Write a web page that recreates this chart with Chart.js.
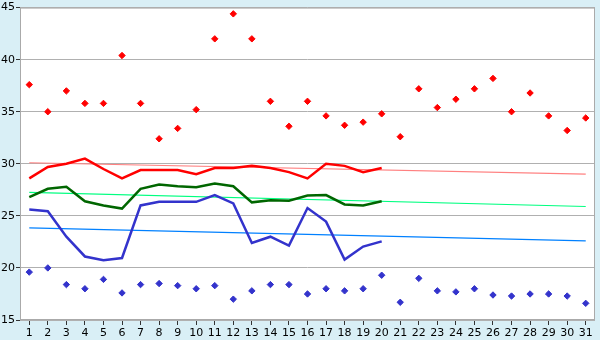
<!DOCTYPE html>
<html>
<head>
<meta charset="utf-8">
<script src="https://cdn.jsdelivr.net/npm/chart.js@4"></script>
<style>
  html, body { margin: 0; padding: 0; background: #d9eff6; }
  #wrap { width: 600px; height: 340px; }
</style>
</head>
<body>
<div id="wrap"><canvas id="chart"></canvas></div>
<script>
const days = ['1','2','3','4','5','6','7','8','9','10','11','12','13','14','15','16','17','18','19','20','21','22','23','24','25','26','27','28','29','30','31'];

const highPoints = [37.6, 35.0, 37.0, 35.8, 35.8, 40.4, 35.8, 32.4, 33.4, 35.2, 42.0, 44.4, 42.0, 36.0, 33.6, 36.0, 34.6, 33.7, 34.0, 34.8, 32.6, 37.2, 35.4, 36.2, 37.2, 38.2, 35.0, 36.8, 34.6, 33.2, 34.4];
const lowPoints = [19.6, 20.0, 18.4, 18.0, 18.9, 17.6, 18.4, 18.5, 18.3, 18.0, 18.3, 17.0, 17.8, 18.4, 18.4, 17.5, 18.0, 17.8, 18.0, 19.3, 16.7, 19.0, 17.8, 17.7, 18.0, 17.4, 17.3, 17.5, 17.5, 17.3, 16.6];

const highLine = [28.6, 29.7, 30.0, 30.5, 29.5, 28.6, 29.4, 29.4, 29.4, 29.0, 29.6, 29.6, 29.8, 29.6, 29.2, 28.6, 30.0, 29.8, 29.2, 29.6];
const meanLine = [26.8, 27.6, 27.8, 26.4, 26.0, 25.7, 27.6, 28.0, 27.85, 27.75, 28.1, 27.85, 26.3, 26.5, 26.45, 26.95, 27.0, 26.1, 26.0, 26.4];
const lowLine = [25.6, 25.45, 23.0, 21.1, 20.75, 20.95, 26.0, 26.35, 26.35, 26.35, 27.0, 26.2, 22.4, 23.0, 22.15, 25.75, 24.45, 20.8, 22.05, 22.55];

// trend lines: value at day 1 and day 31
const highTrend = [30.1, 29.0];
const meanTrend = [27.25, 25.9];
const lowTrend = [23.85, 22.6];

const yTicks = [15, 20, 25, 30, 35, 40, 45];

function trendData(ends) {
    const d = days.map(() => null);
    d[0] = ends[0];
    d[days.length - 1] = ends[1];
    return d;
}

const frame = {
    id: 'frame',
    beforeDraw(chart) {
        const { ctx, chartArea: a } = chart;
        ctx.save();
        ctx.fillStyle = '#d9eff6';
        ctx.fillRect(0, 0, chart.width, chart.height);
        ctx.fillStyle = '#ffffff';
        ctx.fillRect(a.left, a.top, a.right - a.left, a.bottom - a.top);
        ctx.restore();
    },
    afterDraw(chart) {
        const { ctx, chartArea: a } = chart;
        ctx.save();
        ctx.strokeStyle = '#aaaaaa';
        ctx.lineWidth = 1;
        ctx.strokeRect(a.left + 0.5, a.top + 0.5, a.right - a.left - 1, a.bottom - a.top - 1);
        ctx.restore();
    }
};

const pointSet = (data, color) => ({
    data: data, showLine: false, borderColor: color, backgroundColor: color,
    pointStyle: 'rectRot', pointRadius: 3.2, pointBorderWidth: 1
});
const lineSet = (data, color) => ({
    data: data, borderColor: color, borderWidth: 2.5, pointRadius: 0, tension: 0, fill: false
});
const trendSet = (ends, color) => ({
    data: trendData(ends), borderColor: color, borderWidth: 1.2, pointRadius: 0, spanGaps: true, fill: false
});

new Chart(document.getElementById('chart'), {
    type: 'line',
    data: {
        labels: days,
        datasets: [
            pointSet(highPoints, '#ff0000'),
            pointSet(lowPoints, '#3333cc'),
            lineSet(highLine, '#ff0000'),
            lineSet(meanLine, '#006600'),
            lineSet(lowLine, '#3333cc'),
            trendSet(highTrend, '#ff8080'),
            trendSet(meanTrend, '#00ff80'),
            trendSet(lowTrend, '#0080ff')
        ]
    },
    plugins: [frame],
    options: {
        responsive: true,
        maintainAspectRatio: false,
        animation: false,
        layout: { padding: { top: 0, right: 5, left: 0, bottom: 0 } },
        plugins: { legend: { display: false }, tooltip: { enabled: false } },
        scales: {
            x: {
                offset: true,
                grid: { display: true, drawOnChartArea: false, drawTicks: true, tickLength: 5, color: '#333333', offset: false },
                border: { display: false },
                ticks: {
                    color: '#000000', padding: 2, maxRotation: 0, autoSkip: false,
                    font: { family: 'DejaVu Sans', size: 11 }
                },
                afterFit(axis) { axis.height = 20; }
            },
            y: {
                min: 15, max: 45,
                afterBuildTicks(axis) { axis.ticks = yTicks.map(v => ({ value: v })); },
                grid: { color: '#b0b0b0', lineWidth: 1, tickLength: 4, drawTicks: true, tickColor: '#333333' },
                border: { display: false },
                ticks: {
                    color: '#000000', padding: 1,
                    font: { family: 'DejaVu Sans', size: 11 }
                },
                afterFit(axis) { axis.width = 20; }
            }
        }
    }
});
</script>
</body>
</html>
